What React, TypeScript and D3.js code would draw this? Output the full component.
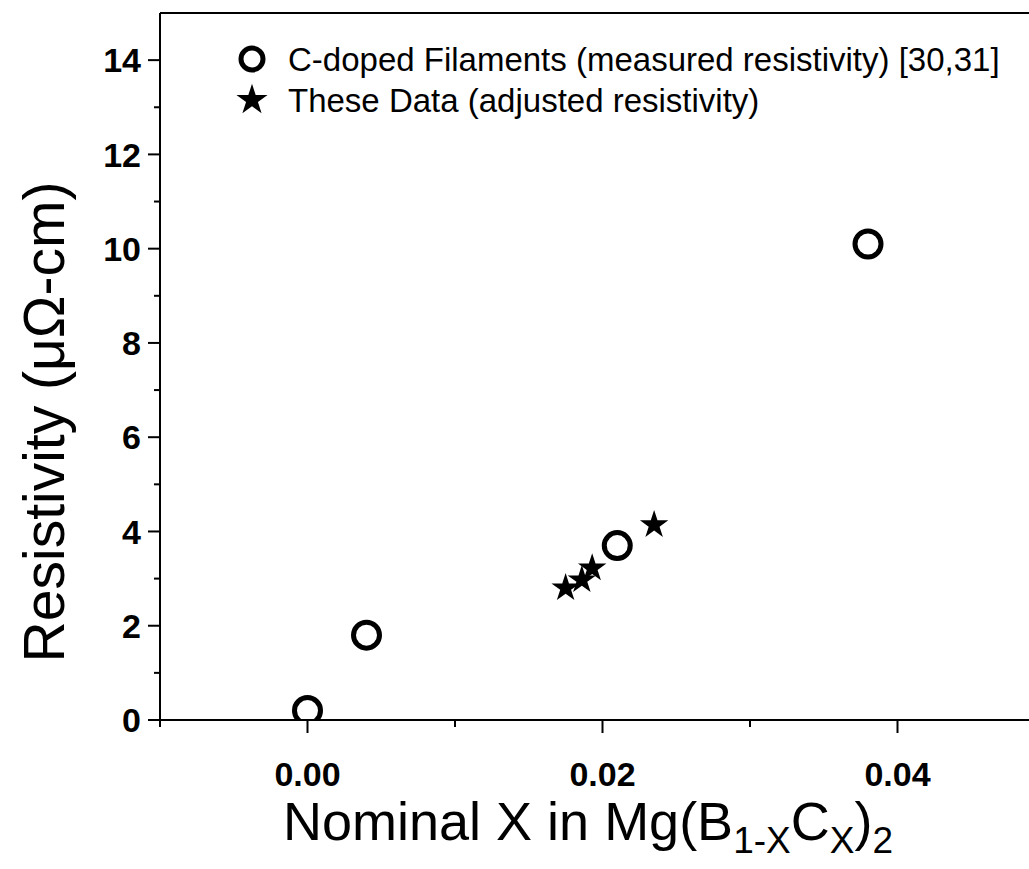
import React from "react";
import * as d3 from "d3";

const circleX = [0.0, 0.004, 0.021, 0.038];
const circleY = [0.2, 1.8, 3.7, 10.1];
const starX = [0.0175, 0.0186, 0.0193, 0.0235];
const starY = [2.8, 2.97, 3.22, 4.14];
const xTicks = [0.0, 0.02, 0.04];
const xMinorTicks = [-0.01, 0.01, 0.03];
const yTicks = [0, 2, 4, 6, 8, 10, 12, 14];
const yMinorTicks = [1, 3, 5, 7, 9, 11, 13];
const legendLabels = [
  "C-doped Filaments (measured resistivity) [30,31]",
  "These Data (adjusted resistivity)",
];

const W = 1029;
const H = 869;
const left = 160;
const top = 13;
const bottom = 720;

export default function App() {
  const x = d3.scaleLinear().domain([-0.01, 0.05]).range([left, left + 6 * 147.5]);
  const y = d3.scaleLinear().domain([0, 15]).range([bottom, top]);
  const star = d3.symbol().type(d3.symbolStar).size(250)() as string;
  const font = "Liberation Sans, Arial, sans-serif";
  const circles = circleX.map((v, i) => ({ x: v, y: circleY[i] }));
  const stars = starX.map((v, i) => ({ x: v, y: starY[i] }));
  return (
    <svg
      width={W}
      height={H}
      style={{ position: "absolute", left: 0, top: 0, background: "#fff" }}
      fontFamily={font}
    >
      <defs>
        <clipPath id="plot">
          <rect x={left} y={top} width={W - left} height={bottom - top} />
        </clipPath>
      </defs>
      <rect x={0} y={0} width={W} height={H} fill="#fff" />
      {/* frame */}
      <line x1={left} x2={W} y1={top} y2={top} stroke="#000" strokeWidth={2} />
      <line x1={left} x2={left} y1={top} y2={bottom + 6} stroke="#000" strokeWidth={2} />
      <line x1={left - 12} x2={W} y1={bottom} y2={bottom} stroke="#000" strokeWidth={2} />
      {/* y ticks */}
      {yTicks.map((t) => (
        <g key={"y" + t}>
          <line x1={left - 12} x2={left} y1={y(t)} y2={y(t)} stroke="#000" strokeWidth={2} />
          <text
            x={left - 19}
            y={y(t)}
            dy="0.36em"
            textAnchor="end"
            fontSize={34}
            fontWeight="bold"
          >
            {t}
          </text>
        </g>
      ))}
      {yMinorTicks.map((t) => (
        <line key={"ym" + t} x1={left - 6} x2={left} y1={y(t)} y2={y(t)} stroke="#000" strokeWidth={2} />
      ))}
      {/* x ticks */}
      {xTicks.map((t) => (
        <g key={"x" + t}>
          <line x1={x(t)} x2={x(t)} y1={bottom} y2={bottom + 13} stroke="#000" strokeWidth={2} />
          <text x={x(t)} y={bottom + 66} textAnchor="middle" fontSize={34} fontWeight="bold">
            {d3.format(".2f")(t)}
          </text>
        </g>
      ))}
      {xMinorTicks.map((t) => (
        <line key={"xm" + t} x1={x(t)} x2={x(t)} y1={bottom} y2={bottom + 7} stroke="#000" strokeWidth={2} />
      ))}
      {/* data */}
      <g clipPath="url(#plot)">
        {circles.map((d, i) => (
          <circle
            key={"c" + i}
            cx={x(d.x)}
            cy={y(d.y)}
            r={13}
            fill="none"
            stroke="#000"
            strokeWidth={5}
          />
        ))}
        {stars.map((d, i) => (
          <path key={"s" + i} d={star} transform={`translate(${x(d.x)},${y(d.y)})`} fill="#000" />
        ))}
      </g>
      {/* legend */}
      <circle cx={252} cy={59} r={11} fill="none" stroke="#000" strokeWidth={5} />
      <text x={288} y={59} dy="0.36em" fontSize={33}>
        {legendLabels[0]}
      </text>
      <path d={d3.symbol().type(d3.symbolStar).size(300)() as string} transform="translate(252,100)" fill="#000" />
      <text x={288} y={100} dy="0.36em" fontSize={33}>
        {legendLabels[1]}
      </text>
      {/* axis titles */}
      <text
        transform={`translate(64,422) rotate(-90)`}
        textAnchor="middle"
        fontSize={57}
      >
        Resistivity (μΩ-cm)
      </text>
      <text x={283} y={840} fontSize={54}>
        Nominal X in Mg(B
        <tspan fontSize={37} dy={13}>1-X</tspan>
        <tspan dy={-13}>C</tspan>
        <tspan fontSize={37} dy={13}>X</tspan>
        <tspan dy={-13}>)</tspan>
        <tspan fontSize={37} dy={13}>2</tspan>
      </text>
    </svg>
  );
}
